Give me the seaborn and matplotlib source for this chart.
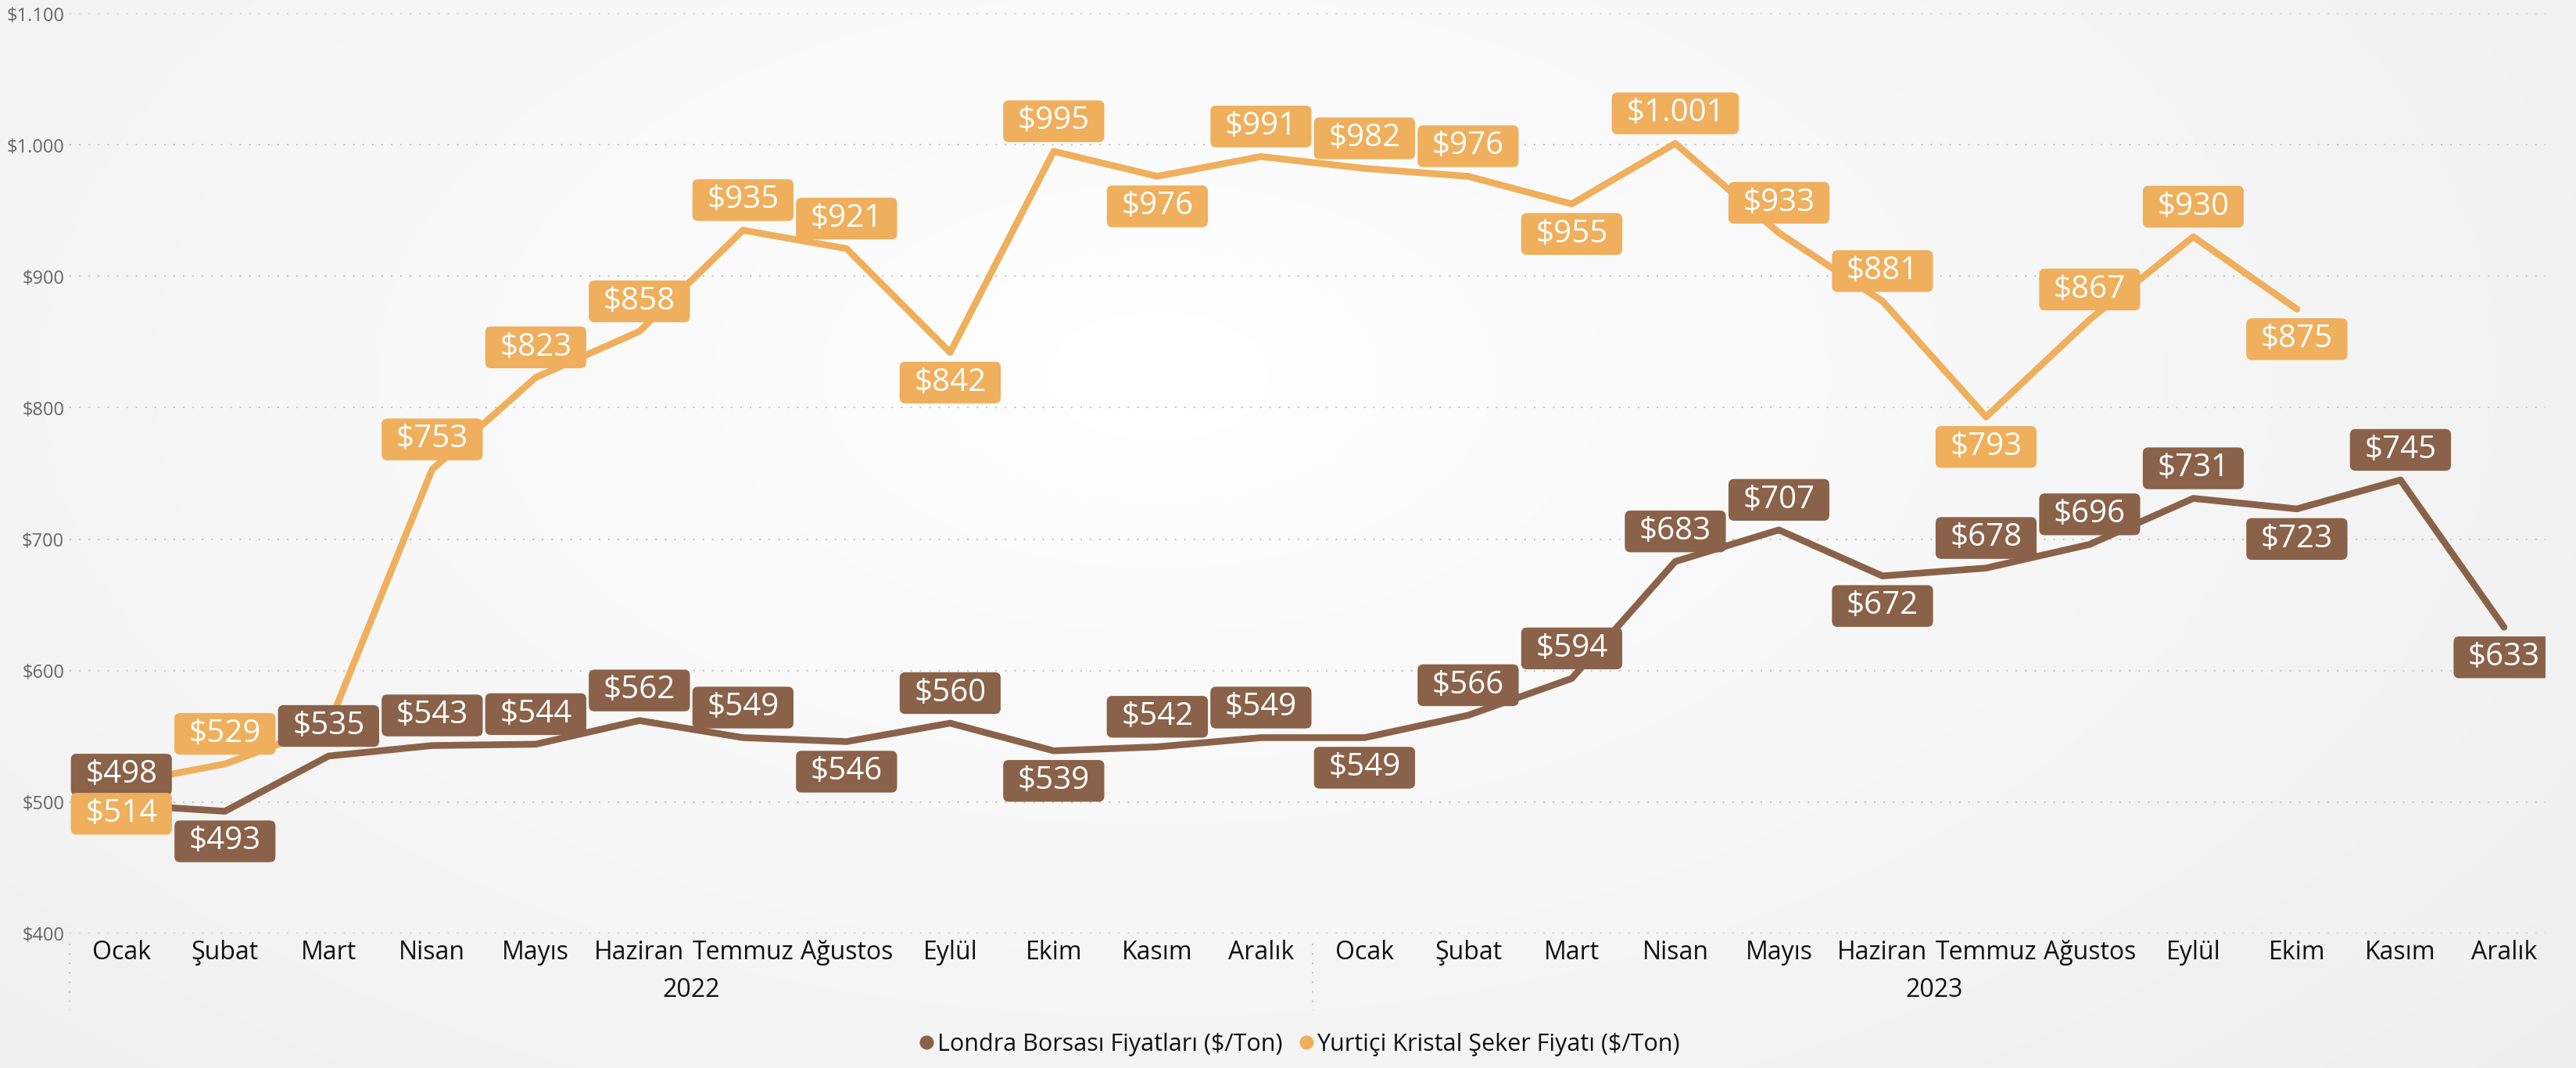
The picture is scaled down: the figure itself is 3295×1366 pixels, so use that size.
import numpy as np
import pandas as pd
import matplotlib
matplotlib.use("Agg")
import matplotlib.pyplot as plt
import matplotlib.transforms as mtransforms
from matplotlib.patches import BoxStyle
from matplotlib.lines import Line2D
import seaborn as sns

# ---------------- data ----------------
months = ["Ocak", "Şubat", "Mart", "Nisan", "Mayıs", "Haziran",
          "Temmuz", "Ağustos", "Eylül", "Ekim", "Kasım", "Aralık"]
years = ["2022", "2023"]
series_names = ["Londra Borsası Fiyatları ($/Ton)",
                "Yurtiçi Kristal Şeker Fiyatı ($/Ton)"]
londra = [498, 493, 535, 543, 544, 562, 549, 546, 560, 539, 542, 549,
          549, 566, 594, 683, 707, 672, 678, 696, 731, 723, 745, 633]
yurtici = [514, 529, 558, 753, 823, 858, 935, 921, 842, 995, 976, 991,
           982, 976, 955, 1001, 933, 881, 793, 867, 930, 875]
y_ticks = [400, 500, 600, 700, 800, 900, 1000, 1100]

# label placement (a = above, b = below, None = hidden)
londra_pos = ['a', 'b', 'a', 'a', 'a', 'a', 'a', 'b', 'a', 'b', 'a', 'a',
              'b', 'a', 'a', 'a', 'a', 'b', 'a', 'a', 'a', 'b', 'a', 'b']
yurtici_pos = ['b', 'a', None, 'a', 'a', 'a', 'a', 'a', 'b', 'a', 'b', 'a',
               'a', 'a', 'b', 'a', 'a', 'a', 'b', 'a', 'a', 'b']

colors = {series_names[0]: "#8A6249", series_names[1]: "#EFAF5C"}

def fmt(v):
    return "$" + f"{int(v):,}".replace(",", ".")

# ---------------- figure ----------------
sns.set_theme(style="white")
FONT = ["Open Sans", "DejaVu Sans"]
plt.rcParams["font.family"] = FONT

W, H = 3295, 1366
fig = plt.figure(figsize=(W / 100, H / 100), dpi=100)

# radial background
bg = fig.add_axes([0, 0, 1, 1], zorder=-10)
gy, gx = np.mgrid[0:H:4, 0:W:4]
r = np.sqrt(((gx - 1480) / 2000.0) ** 2 + ((gy - 480) / 1150.0) ** 2)
val = 1.0 - 0.055 * np.clip(r, 0, 1.2)
img = np.dstack([val, val, val])
bg.imshow(img, extent=[0, W, H, 0], aspect="auto", interpolation="bilinear")
bg.set_axis_off()

ax = fig.add_axes([89 / W, 1 - 1194 / H, (3256 - 89) / W, (1194 - 17) / H])
ax.patch.set_alpha(0)

rows = []
for i, v in enumerate(londra):
    rows.append({"idx": i, "value": v, "series": series_names[0]})
for i, v in enumerate(yurtici):
    rows.append({"idx": i, "value": v, "series": series_names[1]})
df = pd.DataFrame(rows)

sns.lineplot(data=df, x="idx", y="value", hue="series", palette=colors,
             linewidth=6.2, legend=False, ax=ax, zorder=3,
             solid_capstyle="round", solid_joinstyle="round")

ax.set_xlim(-0.5, 23.4)
ax.set_ylim(400, 1100)
ax.set_yticks(y_ticks)
ax.set_yticklabels([fmt(t) for t in y_ticks])
ax.set_xticks(range(24))
ax.set_xticklabels(months * 2)
ax.set_xlabel("")
ax.set_ylabel("")
for s in ax.spines.values():
    s.set_visible(False)
ax.grid(axis="y", color="#C6C6C6", linewidth=1.5, linestyle=(0, (1, 4.8)))
ax.grid(axis="x", visible=False)
ax.tick_params(axis="x", labelsize=23, colors="#111111", pad=6, length=0)
ax.tick_params(axis="y", labelsize=17, labelcolor="#666666", pad=5, length=0)

# year labels and separators
trans = mtransforms.blended_transform_factory(ax.transData, ax.transAxes)
for k, yr in enumerate(years):
    ax.text(5.5 + 12 * k, -0.062, yr, transform=trans, ha="center",
            va="center", fontsize=23, color="#111111")
for xs in (-0.5, 11.5):
    ax.plot([xs, xs], [-0.011, -0.083], transform=trans, clip_on=False,
            color="#C0C0C0", linewidth=1.5, linestyle=(0, (1, 4.8)))

# data labels
_round = BoxStyle.Round(pad=0, rounding_size=0.18)

def label_box(x0, y0, width, height, mutation_size):
    padx = 0.46 * mutation_size
    pady = 0.16 * mutation_size
    return _round(x0 - padx, y0 - pady, width + 2 * padx, height + 2 * pady,
                  mutation_size)

def add_labels(values, positions, color):
    for i, (v, p) in enumerate(zip(values, positions)):
        if p is None:
            continue
        dy = 27.7 if p == 'a' else -27.7
        t = ax.annotate(fmt(v), xy=(i, v), xytext=(0, dy),
                        textcoords="offset points", ha="center", va="center",
                        fontsize=29, color="white", zorder=5,
                        bbox=dict(boxstyle=label_box, fc=color, ec="none"),
                        annotation_clip=False)
        t.set_clip_on(True)
        t.set_clip_box(ax.bbox)

add_labels(londra, londra_pos, colors[series_names[0]])
add_labels(yurtici, yurtici_pos, colors[series_names[1]])

# legend
handles = [Line2D([], [], marker="o", linestyle="none", markersize=13,
                  markerfacecolor=colors[n], markeredgecolor="none")
           for n in series_names]
fig.legend(handles, series_names, loc="center", bbox_to_anchor=(0.504, 1 - 1336 / H),
           ncol=2, frameon=False, fontsize=22, handletextpad=0.05,
           columnspacing=0.6, handlelength=0.8, labelcolor="#111111")

fig.savefig("out.png", dpi=100)
